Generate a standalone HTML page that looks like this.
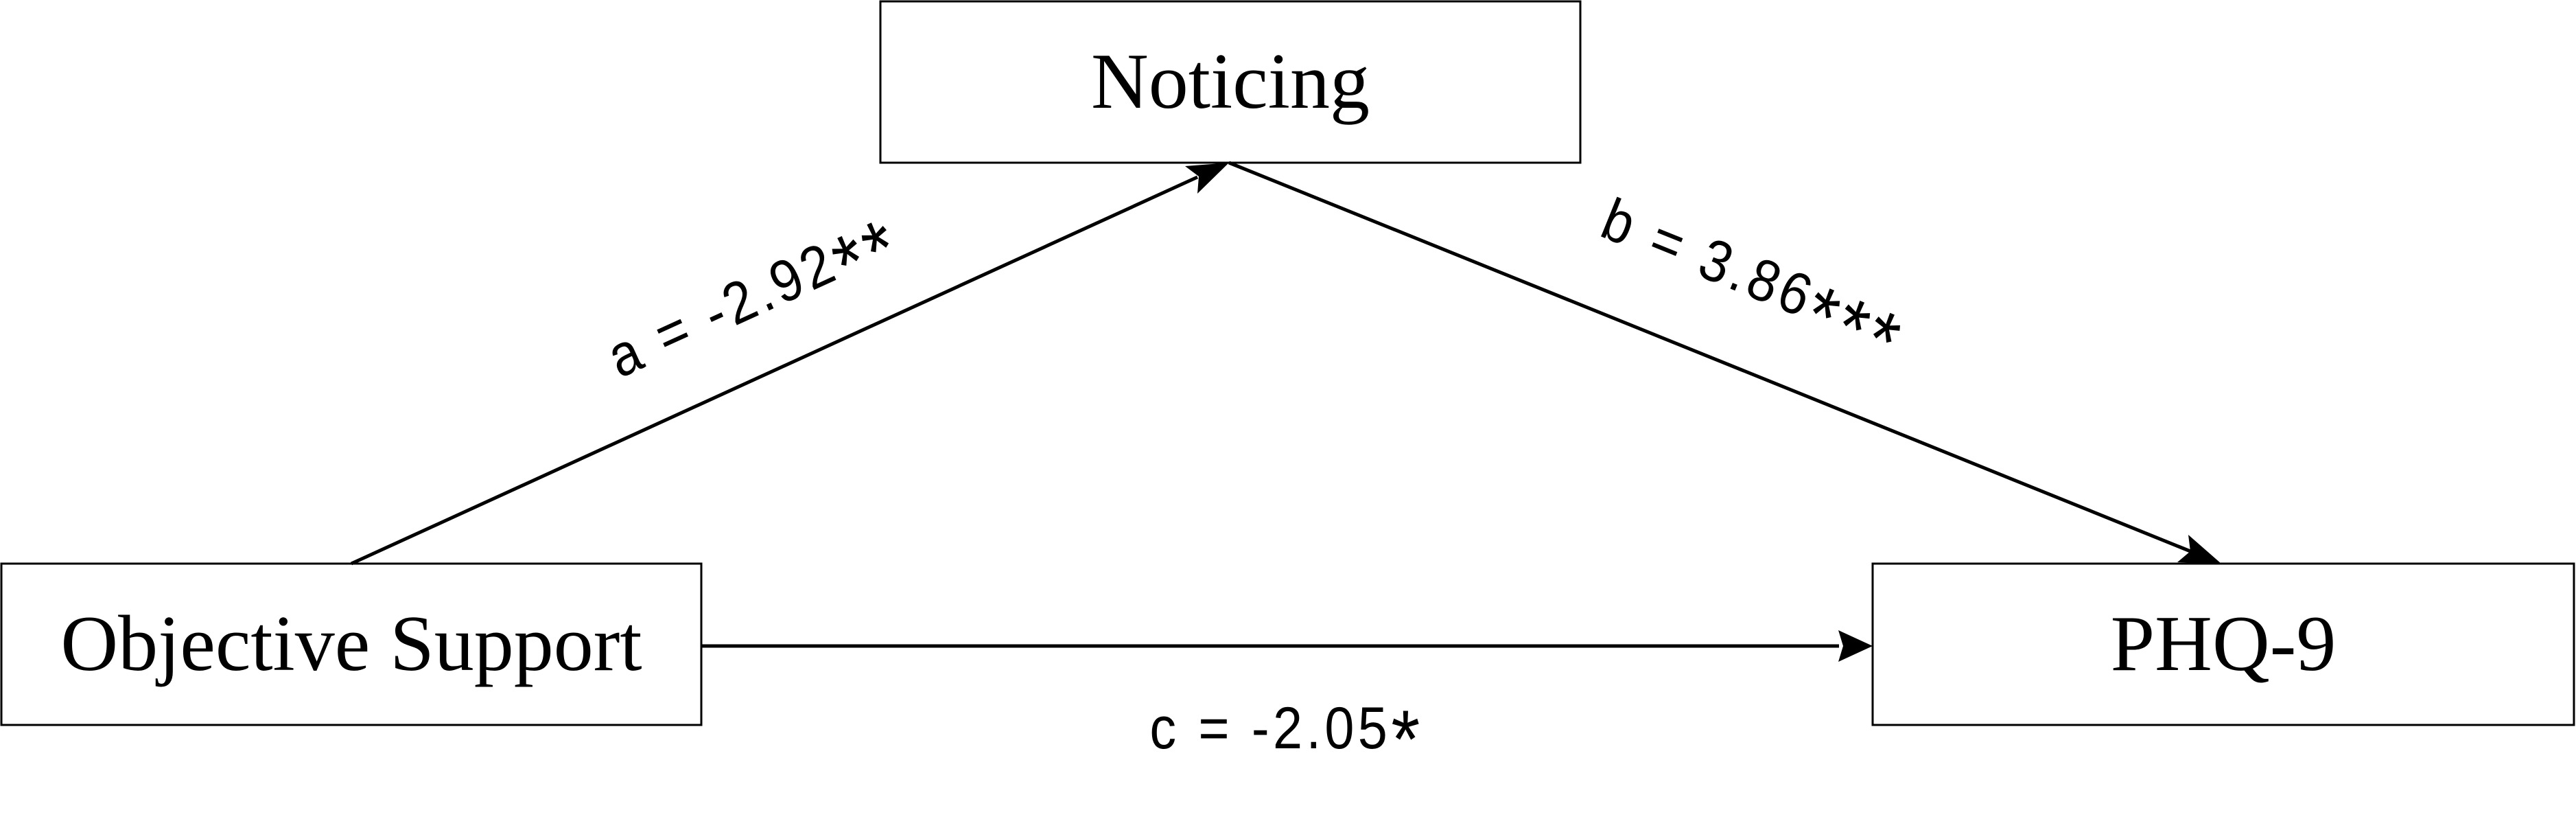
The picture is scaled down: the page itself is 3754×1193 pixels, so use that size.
<!DOCTYPE html>
<html><head><meta charset="utf-8"><style>
html,body{margin:0;padding:0;background:#fff;}
svg{display:block;}
</style></head><body>
<svg width="3754" height="1193" viewBox="0 0 3754 1193" xmlns="http://www.w3.org/2000/svg">
<g fill="#fff" stroke="#000" stroke-width="3">
<rect x="1283" y="2" width="1020" height="235"/>
<rect x="2" y="821" width="1020" height="235"/>
<rect x="2729" y="821" width="1022" height="235"/>
</g>
<g font-family="Liberation Serif, serif" font-size="116" text-anchor="middle" fill="#000">
<text x="1793" y="157">Noticing</text>
<text x="512" y="976">Objective Support</text>
<text x="3240" y="976">PHQ-9</text>
</g>
<g stroke="#000" stroke-width="5" fill="none">
<line x1="512" y1="821" x2="1745" y2="258"/>
<line x1="1791" y1="237" x2="3192" y2="803"/>
<line x1="1022" y1="941" x2="2680" y2="941"/>
</g>
<g fill="#000">
<polygon points="1791,237 1745,282 1747,257 1727,242"/>
<polygon points="3237,821 3173,819 3192,803 3189,779"/>
<polygon points="2729,941 2679,918 2686,941 2679,964"/>
</g>
<g font-family="Liberation Sans, sans-serif" font-size="86" fill="#000" text-anchor="middle" letter-spacing="6">
<text transform="translate(1108,458) rotate(-24.5) scale(0.9,1)">a = -2.92<tspan font-size="120" dy="28">**</tspan></text>
<text transform="translate(2545,430) rotate(22) scale(0.9,1)">b = 3.86<tspan font-size="120" dy="28">***</tspan></text>
<text transform="translate(1875,1090) scale(0.9,1)">c = -2.05<tspan font-size="120" dy="28">*</tspan></text>
</g>
</svg>
</body></html>
